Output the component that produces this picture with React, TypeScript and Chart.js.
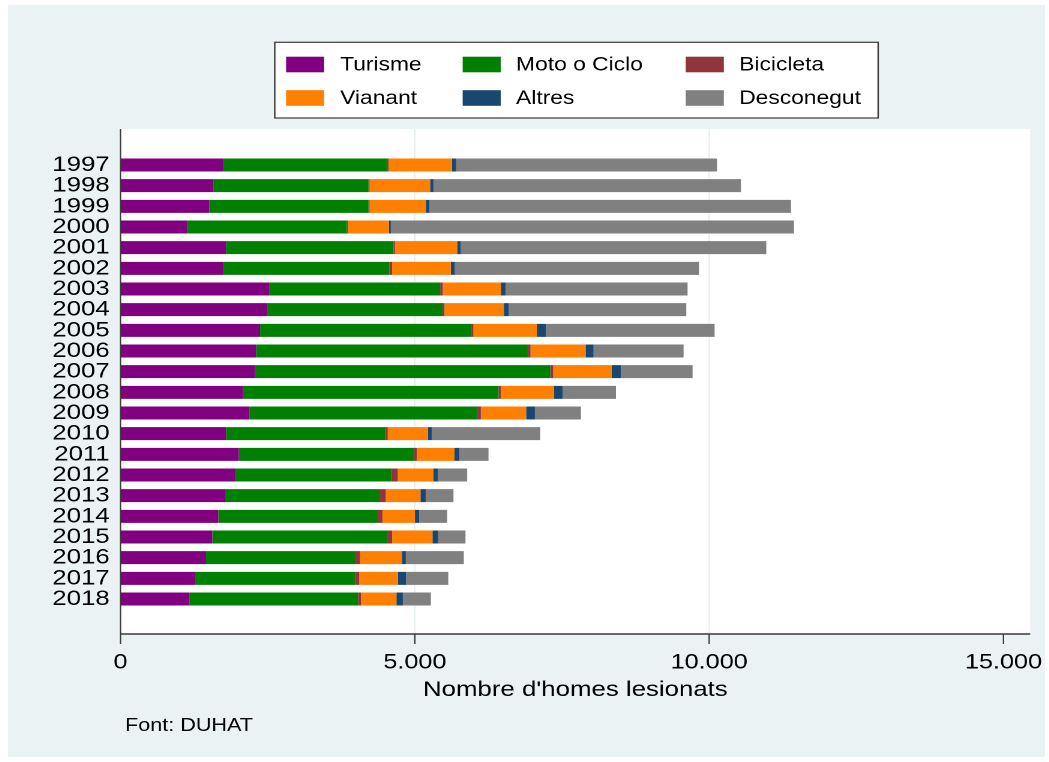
import React, { useEffect, useRef } from "react";
import { Chart, registerables } from "chart.js";

Chart.register(...registerables);

// ---------- DATA ----------
const years = [
  "1997", "1998", "1999", "2000", "2001", "2002", "2003", "2004", "2005", "2006", "2007",
  "2008", "2009", "2010", "2011", "2012", "2013", "2014", "2015", "2016", "2017", "2018",
];
const turisme = [1747, 1577, 1510, 1141, 1793, 1747, 2524, 2501, 2371, 2303, 2286, 2082, 2189, 1793, 2009, 1951, 1788, 1662, 1560, 1453, 1278, 1169];
const motoCiclo = [2782, 2635, 2702, 2703, 2844, 2822, 2906, 2968, 3597, 4617, 5014, 4339, 3864, 2702, 2979, 2658, 2611, 2709, 2981, 2538, 2707, 2867];
const bicicleta = [25, 20, 20, 20, 25, 45, 45, 34, 28, 45, 51, 40, 68, 45, 45, 102, 108, 78, 73, 79, 68, 51];
const vianant = [1075, 1028, 955, 694, 1062, 997, 986, 1009, 1077, 935, 991, 901, 770, 681, 640, 605, 588, 551, 685, 709, 660, 600];
const altres = [73, 56, 62, 34, 57, 69, 79, 85, 153, 136, 159, 147, 148, 68, 85, 75, 92, 73, 97, 68, 136, 109];
const desconegut = [4431, 5224, 6141, 6849, 5189, 4147, 3093, 3014, 2866, 1529, 1217, 907, 782, 1841, 493, 498, 469, 476, 464, 985, 719, 476];

const seriesLabels = ["Turisme", "Moto o Ciclo", "Bicicleta", "Vianant", "Altres", "Desconegut"];
const seriesColors = ["#800080", "#008000", "#90353B", "#FF7F00", "#1A476F", "#808080"];
const xTickValues = [0, 5000, 10000, 15000];
const xMax = 15454;
const xTitle = "Nombre d'homes lesionats";
const sourceNote = "Font: DUHAT";

// ---------- LAYOUT ----------
const SX = 1.2; // horizontal stretch of the rendered canvas
const LW = 864; // logical width
const LH = 752; // logical height
const FONT = "'Liberation Sans', Arial, sans-serif";
const PLOT_T = 124;
const PLOT_B = 629;
const AREA_T = 149.67;
const AREA_B = 604.33;
const AREA_L = 93.75;
const AREA_R = 851.67;

const fmt = (v: number) => {
  const s = Math.round(v).toString();
  return s.replace(/\B(?=(\d{3})+(?!\d))/g, ".");
};

const framePlugin = {
  id: "stataFrame",
  beforeDraw(chart: any) {
    const { ctx, chartArea } = chart;
    ctx.save();
    ctx.fillStyle = "#FFFFFF";
    ctx.fillRect(chartArea.left, PLOT_T, chartArea.right - chartArea.left, PLOT_B - PLOT_T);
    ctx.restore();
  },
  beforeDatasetsDraw(chart: any) {
    const { ctx } = chart;
    const xs = chart.scales.x;
    ctx.save();
    ctx.strokeStyle = "#E3ECEE";
    ctx.lineWidth = 1.2 / SX;
    const ticks = xs.ticks;
    for (let i = 1; i < ticks.length - 1; i++) {
      const px = xs.getPixelForValue(ticks[i].value);
      ctx.beginPath();
      ctx.moveTo(px, PLOT_T);
      ctx.lineTo(px, PLOT_B);
      ctx.stroke();
    }
    ctx.restore();
  },
  afterDatasetsDraw(chart: any) {
    const { ctx, chartArea } = chart;
    const xs = chart.scales.x;
    ctx.save();
    ctx.strokeStyle = "#3A3A3A";
    // y axis line
    ctx.lineWidth = 1.4 / SX;
    ctx.beginPath();
    ctx.moveTo(chartArea.left, PLOT_T);
    ctx.lineTo(chartArea.left, PLOT_B);
    ctx.stroke();
    // x axis line
    ctx.lineWidth = 1.4;
    ctx.beginPath();
    ctx.moveTo(chartArea.left, PLOT_B);
    ctx.lineTo(chartArea.right, PLOT_B);
    ctx.stroke();
    // tick marks
    ctx.lineWidth = 1.4 / SX;
    for (const t of xs.ticks) {
      const px = xs.getPixelForValue(t.value);
      ctx.beginPath();
      ctx.moveTo(px, PLOT_B);
      ctx.lineTo(px, PLOT_B + 10);
      ctx.stroke();
    }
    ctx.restore();
  },
  afterDraw(chart: any) {
    const { ctx } = chart;
    ctx.save();
    // legend box
    const bx0 = 222.25, bx1 = 725, by0 = 37.3, by1 = 113;
    ctx.fillStyle = "#FFFFFF";
    ctx.fillRect(bx0, by0, bx1 - bx0, by1 - by0);
    ctx.strokeStyle = "#3A3A3A";
    ctx.lineWidth = 1.2;
    ctx.strokeRect(bx0, by0, bx1 - bx0, by1 - by0);
    const swX = [231.7, 378.8, 564.7];
    const txX = [276.7, 423.3, 609.2];
    const rowY = [59.5, 93];
    ctx.font = `19px ${FONT}`;
    ctx.textBaseline = "middle";
    ctx.textAlign = "left";
    chart.data.datasets.forEach((ds: any, i: number) => {
      const r = Math.floor(i / 3);
      const c = i % 3;
      ctx.fillStyle = ds.backgroundColor;
      ctx.fillRect(swX[c], rowY[r] - 7.8, 31.7, 15.6);
      ctx.fillStyle = "#000000";
      ctx.fillText(ds.label, txX[c], rowY[r] + 1);
    });
    // source note
    ctx.font = `18px ${FONT}`;
    ctx.fillStyle = "#000000";
    ctx.fillText(sourceNote, 97.5, 721);
    ctx.restore();
  },
};

export default function App() {
  const ref = useRef<HTMLCanvasElement>(null);

  useEffect(() => {
    const canvas = ref.current;
    if (!canvas) return;
    const seriesData = [turisme, motoCiclo, bicicleta, vianant, altres, desconegut];
    const chart = new Chart(canvas, {
      type: "bar",
      data: {
        labels: years,
        datasets: seriesLabels.map((label, i) => ({
          label,
          data: seriesData[i],
          backgroundColor: seriesColors[i],
          borderWidth: 0,
          barPercentage: 0.63,
          categoryPercentage: 1,
        })),
      },
      options: {
        indexAxis: "y",
        responsive: false,
        animation: false,
        devicePixelRatio: 2,
        layout: {
          padding: { top: AREA_T, right: LW - AREA_R, bottom: 0, left: 0 },
        },
        plugins: {
          legend: { display: false },
          tooltip: { enabled: false },
        },
        scales: {
          x: {
            type: "linear",
            stacked: true,
            min: 0,
            max: xMax,
            grid: { display: false, drawTicks: false },
            border: { display: false },
            afterBuildTicks: (s: any) => {
              s.ticks = xTickValues.map((v) => ({ value: v }));
            },
            afterFit: (s: any) => {
              s.height = LH - AREA_B;
              s.paddingLeft = 0;
              s.paddingRight = 0;
            },
            ticks: {
              font: { family: FONT, size: 21 },
              color: "#000000",
              padding: 41,
              maxRotation: 0,
              autoSkip: false,
              callback: (v: any) => fmt(Number(v)),
            },
            title: {
              display: true,
              text: xTitle,
              color: "#000000",
              font: { family: FONT, size: 21.5 },
              padding: { top: 0, bottom: 54 },
            },
          },
          y: {
            type: "category",
            stacked: true,
            grid: { display: false, drawTicks: false },
            border: { display: false },
            afterFit: (s: any) => {
              s.width = AREA_L;
              s.paddingTop = 0;
              s.paddingBottom = 0;
            },
            ticks: {
              font: { family: FONT, size: 21.5, lineHeight: 1 },
              color: "#000000",
              padding: 9,
              autoSkip: false,
            },
          },
        },
      },
      plugins: [framePlugin],
    } as any);
    return () => chart.destroy();
  }, []);

  return (
    <div
      style={{
        position: "absolute",
        left: 8,
        top: 5,
        width: LW * SX,
        height: LH,
        background: "#EAF2F3",
      }}
    >
      <canvas
        ref={ref}
        width={LW}
        height={LH}
        style={{ width: `${LW * SX}px`, height: `${LH}px`, display: "block" }}
      />
    </div>
  );
}
